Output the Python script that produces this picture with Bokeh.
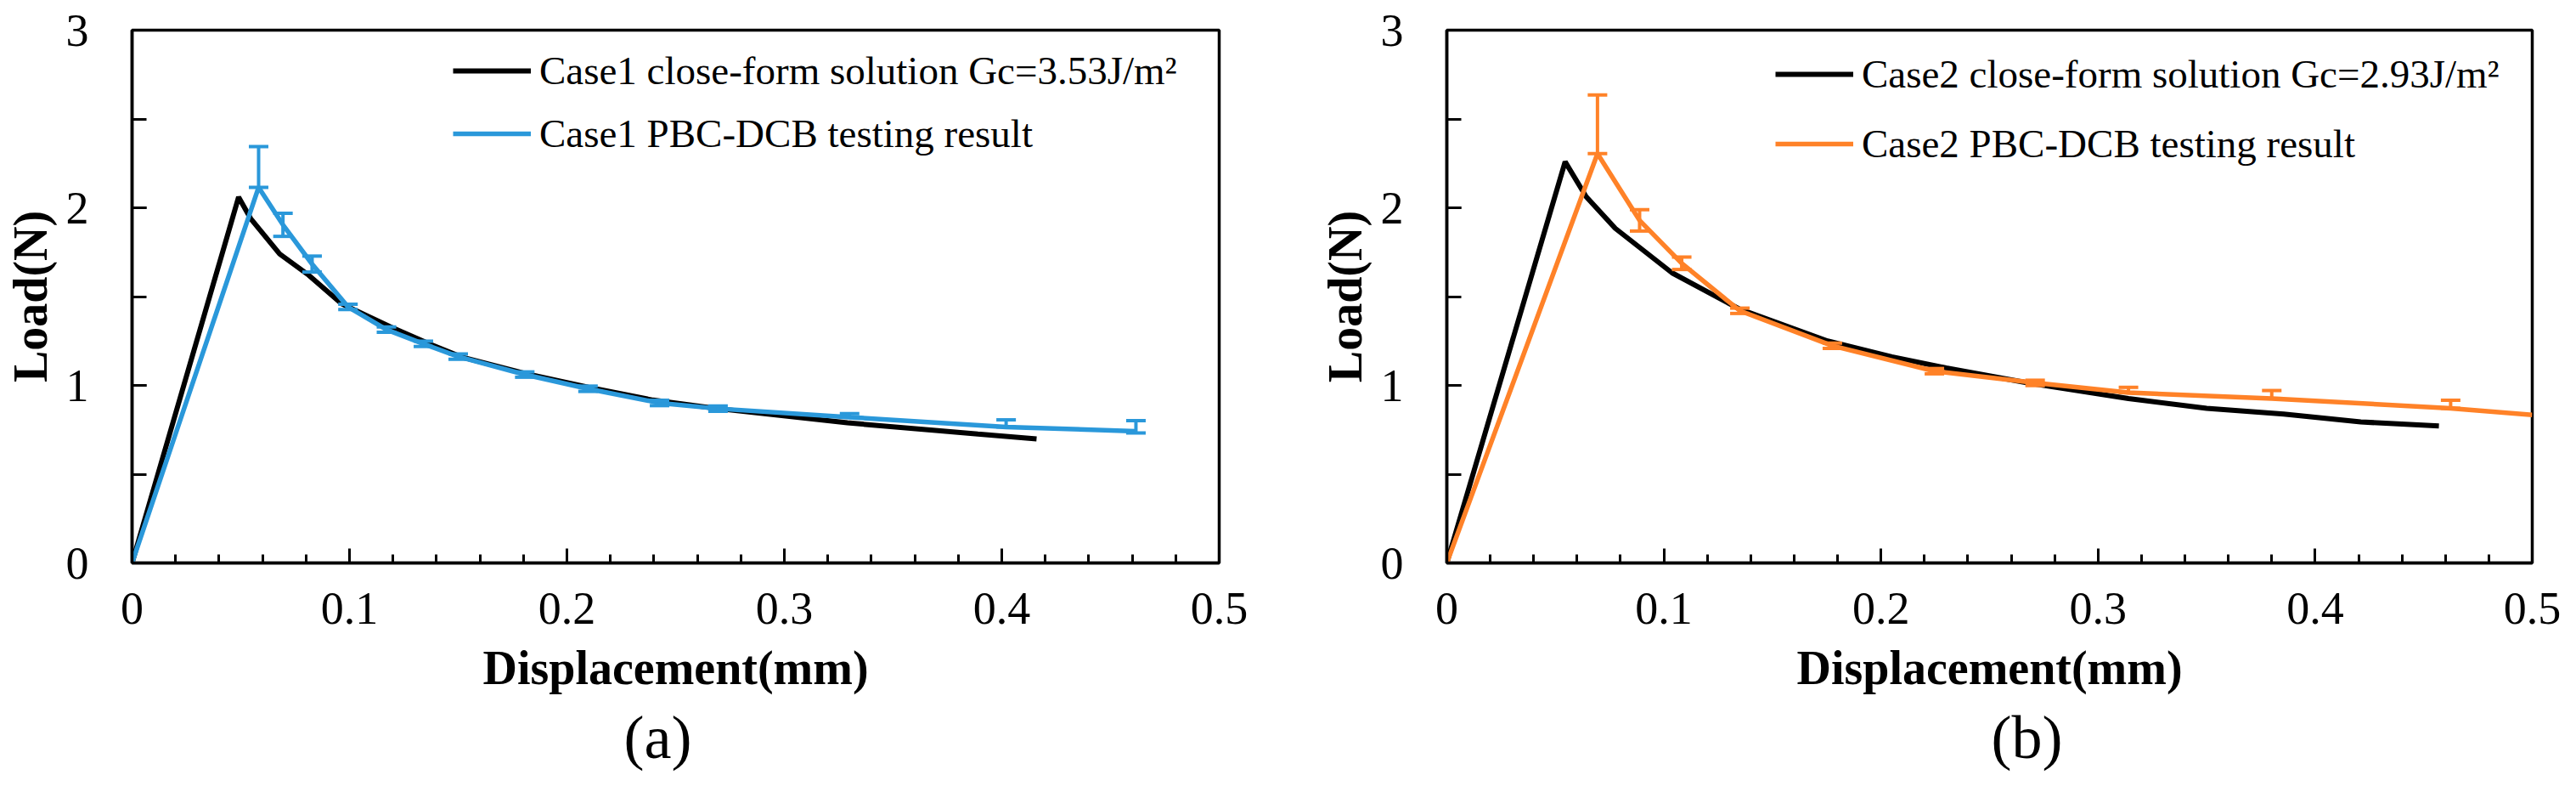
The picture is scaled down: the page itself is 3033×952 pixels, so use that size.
from bokeh.plotting import figure
from bokeh.models import (Range1d, SingleIntervalTicker, Whisker, TeeHead,
                          ColumnDataSource, Legend, LegendItem, Title)
from bokeh.layouts import row
from bokeh.embed import file_html
from bokeh.resources import INLINE

# ---------------- data ----------------
# Case 1
case1_close_x = [0, 0.049, 0.0545, 0.0679, 0.0813, 0.0963, 0.1187, 0.1366, 0.1515,
                 0.181, 0.2098, 0.2396, 0.2695, 0.329, 0.389, 0.416]
case1_close_y = [0, 2.06, 1.94, 1.74, 1.62, 1.46, 1.33, 1.234, 1.16,
                 1.066, 0.99, 0.917, 0.869, 0.789, 0.726, 0.699]

case1_test_x = [0, 0.0582, 0.0694, 0.0828, 0.0993, 0.117, 0.134, 0.150, 0.1806,
                0.2097, 0.2426, 0.2695, 0.330, 0.402, 0.4617]
case1_test_y = [0, 2.115, 1.904, 1.683, 1.442, 1.314, 1.234, 1.162, 1.061,
                0.981, 0.901, 0.869, 0.821, 0.766, 0.742]
case1_err_up = [0, 0.23, 0.065, 0.045, 0.015, 0.015, 0.015, 0.015, 0.015,
                0.015, 0.015, 0.015, 0.02, 0.04, 0.06]
case1_err_dn = [0, 0, 0.065, 0.045, 0.015, 0.015, 0.015, 0.015, 0.015,
                0.015, 0.015, 0.015, 0.0, 0.0, 0.01]

# Case 2
case2_close_x = [0, 0.0545, 0.0642, 0.0776, 0.1037, 0.135, 0.1754, 0.205, 0.230,
                 0.2675, 0.314, 0.350, 0.3855, 0.421, 0.457]
case2_close_y = [0, 2.259, 2.0625, 1.884, 1.634, 1.4286, 1.25, 1.161, 1.098,
                 1.014, 0.926, 0.871, 0.838, 0.794, 0.772]

case2_test_x = [0, 0.0694, 0.0888, 0.1082, 0.135, 0.1776, 0.2246, 0.271, 0.314,
                0.380, 0.4624, 0.5]
case2_test_y = [0, 2.305, 1.929, 1.6875, 1.42, 1.223, 1.080, 1.014, 0.959,
                0.926, 0.871, 0.834]
case2_err_up = [0, 0.33, 0.06, 0.035, 0.015, 0.015, 0.015, 0.015, 0.03,
                0.045, 0.045, 0]
case2_err_dn = [0, 0, 0.06, 0.035, 0.015, 0.015, 0.015, 0.015, 0.0,
                0.0, 0.0, 0]

legend1 = ["Case1 close-form solution Gc=3.53J/m\u00b2", "Case1 PBC-DCB testing result"]
legend2 = ["Case2 close-form solution Gc=2.93J/m\u00b2", "Case2 PBC-DCB testing result"]
x_title = "Displacement(mm)"
y_title = "Load(N)"
panel_labels = ["(a)", "(b)"]

FONT = "Liberation Serif"
BLUE = "#2A98DA"
ORANGE = "#FF8228"


def make_panel(cx, cy, tx, ty, up, dn, color, labels, tag, width, bl, br,
               leg_loc, leg_spacing, tag_offset):
    p = figure(width=width, height=935, output_backend="svg", toolbar_location=None,
               x_range=Range1d(0, 0.5), y_range=Range1d(0, 3),
               min_border_left=bl, min_border_right=br,
               min_border_top=35, min_border_bottom=273)
    p.background_fill_color = "white"
    p.border_fill_color = "white"
    p.outline_line_color = "black"
    p.outline_line_width = 3.5
    p.xgrid.visible = False
    p.ygrid.visible = False

    p.xaxis.ticker = SingleIntervalTicker(interval=0.1, num_minor_ticks=5)
    p.yaxis.ticker = SingleIntervalTicker(interval=1, num_minor_ticks=2)
    for ax in (p.xaxis[0], p.yaxis[0]):
        ax.axis_line_color = "black"
        ax.axis_line_width = 3.5
        ax.major_tick_line_color = "black"
        ax.minor_tick_line_color = "black"
        ax.major_tick_line_width = 3
        ax.minor_tick_line_width = 3
        ax.major_tick_out = 0
        ax.minor_tick_out = 0
        ax.major_label_text_font = FONT
        ax.major_label_text_font_size = "54px"
        ax.major_label_text_color = "black"
        ax.axis_label_text_font = FONT
        ax.axis_label_text_font_size = "56px"
        ax.axis_label_text_font_style = "bold"
        ax.axis_label_text_color = "black"
    p.xaxis.major_tick_in = 17
    p.xaxis.minor_tick_in = 10
    p.yaxis.major_tick_in = 17
    p.yaxis.minor_tick_in = 17
    p.xaxis.major_label_standoff = 35
    p.yaxis.major_label_standoff = 51
    p.xaxis.axis_label = x_title
    p.yaxis.axis_label = y_title
    p.xaxis.axis_label_standoff = 18
    p.yaxis.axis_label_standoff = 8

    r_close = p.line(cx, cy, line_color="black", line_width=6)
    r_test = p.line(tx, ty, line_color=color, line_width=5.5)

    keep = [i for i in range(len(tx)) if up[i] > 0 or dn[i] > 0]
    src = ColumnDataSource(data=dict(
        x=[tx[i] for i in keep],
        upper=[ty[i] + up[i] for i in keep],
        lower=[ty[i] - dn[i] for i in keep]))
    w = Whisker(base="x", upper="upper", lower="lower", source=src,
                dimension="height", line_color=color, line_width=4,
                upper_head=TeeHead(size=23, line_color=color, line_width=4),
                lower_head=TeeHead(size=23, line_color=color, line_width=4))
    w.level = "overlay"
    p.add_layout(w)

    leg = Legend(items=[LegendItem(label=labels[0], renderers=[r_close]),
                        LegendItem(label=labels[1], renderers=[r_test])],
                 location=leg_loc, glyph_width=92, glyph_height=50,
                 label_height=50, label_standoff=10, spacing=leg_spacing,
                 padding=0, margin=0, border_line_alpha=0,
                 background_fill_alpha=0,
                 label_text_font=FONT, label_text_font_size="47px",
                 label_text_color="black")
    p.add_layout(leg, "center")

    p.add_layout(Title(text=tag, align="left", offset=tag_offset,
                       text_font=FONT, text_font_size="72px",
                       text_font_style="normal", text_color="black",
                       standoff=13), "below")
    return p


p1 = make_panel(case1_close_x, case1_close_y, case1_test_x, case1_test_y,
                case1_err_up, case1_err_dn, BLUE, legend1, panel_labels[0],
                1505, 155, 70, (378, 478), 20, 579)
p2 = make_panel(case2_close_x, case2_close_y, case2_test_x, case2_test_y,
                case2_err_up, case2_err_dn, ORANGE, legend2, panel_labels[1],
                1512, 198, 36, (387, 466), 28, 641)

layout = row(p1, p2, spacing=0)
open("out.html", "w").write(file_html(layout, INLINE))
